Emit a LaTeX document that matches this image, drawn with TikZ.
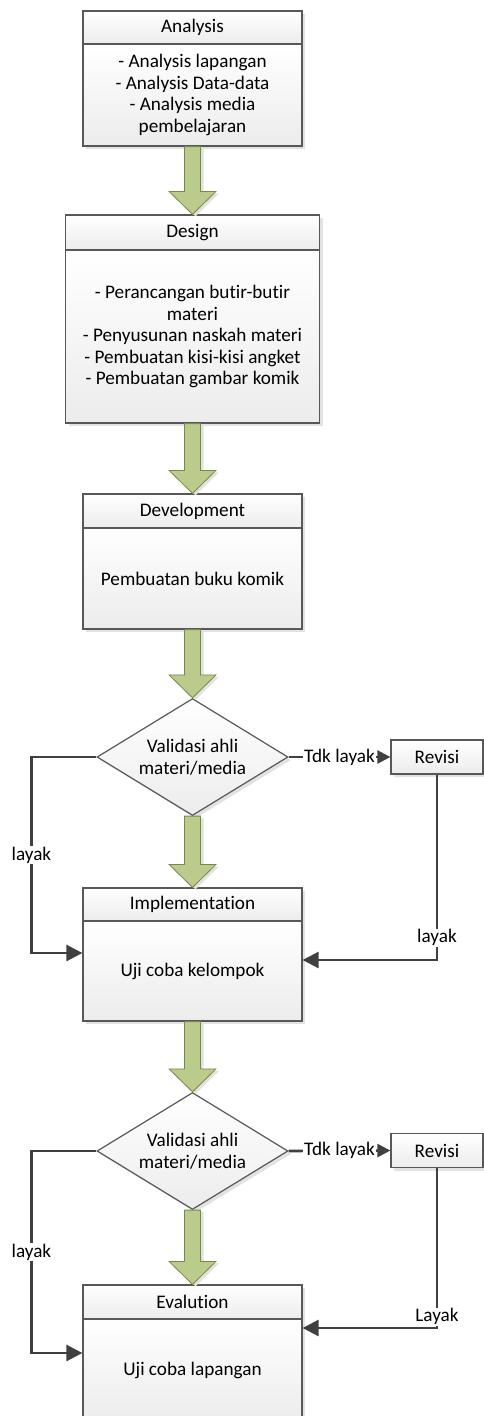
\documentclass[tikz,border=0pt]{standalone}
\usepackage{fontspec}
\setmainfont{Carlito}[Ligatures=NoCommon]
\usetikzlibrary{shapes.geometric}
\usetikzlibrary{arrows.meta}
\usetikzlibrary{calc}
\usetikzlibrary{shadows}

\begin{document}
\begin{tikzpicture}[x=1pt,y=-1pt,line join=miter,
    boxfont/.style={font=\fontsize{19.2pt}{21.5pt}\selectfont},
    stepshade/.style={draw=custcol_58_58_58, line width=1.2pt, top color=white, bottom color=custcol_ee_ee_ee,
        drop shadow={shadow xshift=3pt, shadow yshift=-3pt, fill=custcol_e2_e2_e2, opacity=1}},
    headbox/.style={stepshade, boxfont, rectangle, inner sep=0, minimum width=219pt, minimum height=34pt},
    bodybox/.style={stepshade, boxfont, rectangle, inner sep=0, align=center, minimum width=219pt},
    decision/.style={stepshade, boxfont, diamond, aspect=1.63, inner sep=0, align=center, minimum width=191pt, minimum height=117pt},
    revbox/.style={stepshade, boxfont, rectangle, inner sep=0, minimum width=92pt, minimum height=34pt},
    greenarrow/.style={fill=custcol_bb_cb_8c, draw=custcol_76_8a_48, line width=0.8pt,
        drop shadow={shadow xshift=3pt, shadow yshift=-2pt, fill=custcol_e2_e2_e2, opacity=1}},
    flowline/.style={draw=custcol_40_40_40, line width=2.6pt, -{Triangle[length=16pt,width=16pt]}},
    flowlabel/.style={boxfont, fill=white, inner sep=1pt}]
\definecolor{custcol_58_58_58}{RGB}{88, 88, 88}
\definecolor{custcol_ee_ee_ee}{RGB}{236, 236, 236}
\definecolor{custcol_e2_e2_e2}{RGB}{226, 226, 226}
\definecolor{custcol_bb_cb_8c}{RGB}{187, 203, 140}
\definecolor{custcol_76_8a_48}{RGB}{118, 138, 72}
\definecolor{custcol_40_40_40}{RGB}{64, 64, 64}
\def\greenarrow#1#2{\draw[greenarrow] ($(#1)+(-8,0)$) -- ($(#2)+(-8,-23)$) -- ($(#2)+(-23.5,-23)$) -- (#2) -- ($(#2)+(23.5,-23)$) -- ($(#2)+(8,-23)$) -- ($(#1)+(8,0)$) -- cycle;} % block arrow between steps
\useasboundingbox (0,0) rectangle (484,1416);

\node[headbox, minimum height=33pt] (anaHead) at (192.5,27.5) {Analysis};
\node[bodybox, minimum height=102pt] (anaBody) at (192.5,95) {- Analysis lapangan\\- Analysis Data-data\\- Analysis media\\pembelajaran};
\node[headbox, minimum width=254pt, minimum height=35pt] (desHead) at (192.5,232.5) {Design};
\node[bodybox, minimum width=254pt, minimum height=173pt] (desBody) at (192.5,336.5) {- Perancangan butir-butir\\materi\\- Penyusunan naskah materi\\- Pembuatan kisi-kisi angket\\- Pembuatan gambar komik};
\node[headbox] (devHead) at (192.5,511) {Development};
\node[bodybox, minimum height=101pt] (devBody) at (192.5,578.5) {Pembuatan buku komik};
\node[decision] (val1) at (192.5,757) {Validasi ahli\\materi/media};
\node[revbox] (rev1) at (437,757) {Revisi};
\node[headbox, minimum height=33pt] (impHead) at (192.5,904.5) {Implementation};
\node[bodybox, minimum height=100pt] (impBody) at (192.5,971) {Uji coba kelompok};
\node[decision] (val2) at (192.5,1151) {Validasi ahli\\materi/media};
\node[revbox] (rev2) at (437,1150.5) {Revisi};
\node[headbox] (evaHead) at (192.5,1302) {Evalution};
\node[bodybox, minimum height=102pt] (evaBody) at (192.5,1370) {Uji coba lapangan};

\greenarrow{anaBody.south}{desHead.north}
\greenarrow{desBody.south}{devHead.north}
\greenarrow{devBody.south}{val1.north}
\greenarrow{val1.south}{impHead.north}
\greenarrow{impBody.south}{val2.north}
\greenarrow{val2.south}{evaHead.north}

\draw[flowline] (val1.west) -- ++(-65,0) |- node[pos=0.25, flowlabel] (layak1) {layak} ([yshift=18pt]impBody.west);
\draw[flowline, -{Triangle[length=13pt,width=13pt]}] (val1.east) -- node[flowlabel] (tdk1) {Tdk layak} (rev1.west);
\draw[flowline] (rev1.south) |- node[pos=0.44, flowlabel] (layak2) {layak} ([yshift=11pt]impBody.east);
\draw[flowline] (val2.west) -- ++(-65,0) |- node[pos=0.25, flowlabel] (layak3) {layak} ([yshift=17pt]evaBody.west);
\draw[flowline, -{Triangle[length=13pt,width=13pt]}] (val2.east) -- node[flowlabel] (tdk2) {Tdk layak} (rev2.west);
\draw[flowline] (rev2.south) |- node[pos=0.465, flowlabel] (layak4) {Layak} ([yshift=42pt]evaBody.east);
\end{tikzpicture}
\end{document}
